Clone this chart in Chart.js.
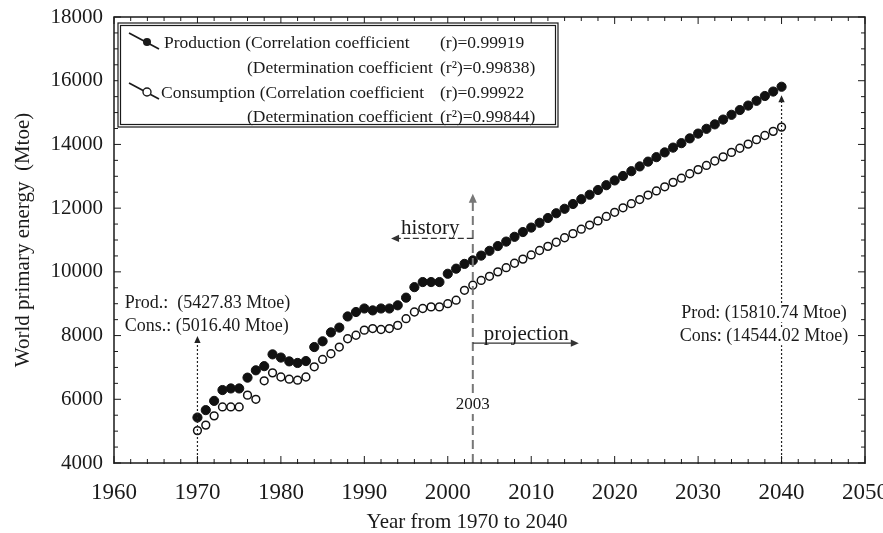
<!DOCTYPE html>
<html><head><meta charset="utf-8">
<script src="https://cdn.jsdelivr.net/npm/chart.js@4/dist/chart.umd.min.js"></script>
<style>html,body{margin:0;padding:0;background:#fff;}#wrap{width:883px;height:533px;}</style>
</head><body><div id="wrap"><canvas id="c" width="883" height="533"></canvas></div>
<script>
// ---- data ----
const years = [1970,1971,1972,1973,1974,1975,1976,1977,1978,1979,1980,1981,1982,1983,1984,1985,1986,1987,1988,1989,
  1990,1991,1992,1993,1994,1995,1996,1997,1998,1999,2000,2001,2002,2003,2004,2005,2006,2007,2008,2009,
  2010,2011,2012,2013,2014,2015,2016,2017,2018,2019,2020,2021,2022,2023,2024,2025,2026,2027,2028,2029,
  2030,2031,2032,2033,2034,2035,2036,2037,2038,2039,2040];
const production = [5427.83,5660,5950,6290,6340,6340,6680,6910,7040,7410,7310,7190,7140,7200,7640,7820,8100,8250,8600,8740,
  8850,8790,8850,8850,8950,9190,9520,9680,9680,9680,9940,10100,10250,10360,10510,10660,10810,10950,11100,11250,
  11390,11540,11690,11840,11980,12130,12280,12420,12570,12720,12870,13010,13160,13310,13460,13600,13750,13900,14040,14190,
  14340,14490,14630,14780,14930,15080,15220,15370,15520,15660,15810.74];
const consumption = [5016.40,5190,5480,5760,5760,5760,6130,6000,6580,6830,6700,6630,6600,6700,7020,7250,7430,7640,7900,8010,
  8170,8220,8190,8220,8320,8530,8740,8850,8900,8900,9000,9110,9420,9580,9730,9860,10000,10130,10270,10400,
  10530,10670,10800,10930,11070,11200,11340,11470,11600,11740,11870,12010,12140,12270,12410,12540,12670,12810,12940,13080,
  13210,13340,13480,13610,13750,13880,14010,14150,14280,14410,14544.02];
const xTickValues = [1960,1970,1980,1990,2000,2010,2020,2030,2040,2050];
const yTickValues = [4000,6000,8000,10000,12000,14000,16000,18000];
const seriesNames = ['Production','Consumption'];
const legendLines = [
  ['Production (Correlation coefficient', '(r)=0.99919'],
  ['(Determination coefficient', '(r\u00B2)=0.99838)'],
  ['Consumption (Correlation coefficient', '(r)=0.99922'],
  ['(Determination coefficient', '(r\u00B2)=0.99844)']
];
const startLabels = ['Prod.:  (5427.83 Mtoe)', 'Cons.: (5016.40 Mtoe)'];
const endLabels = ['Prod: (15810.74 Mtoe)', 'Cons: (14544.02 Mtoe)'];
const xTitle = 'Year from 1970 to 2040';
const yTitle = 'World primary energy  (Mtoe)';

const SERIF = '"Liberation Serif", "Times New Roman", serif';
const INK = '#1a1a1a';

function arrowHead(ctx, x, y, dir, size) {
  ctx.save();
  ctx.translate(x, y);
  const ang = {up: -Math.PI/2, down: Math.PI/2, left: Math.PI, right: 0}[dir];
  ctx.rotate(ang);
  ctx.beginPath();
  ctx.moveTo(0, 0);
  ctx.lineTo(-size, -size*0.45);
  ctx.lineTo(-size, size*0.45);
  ctx.closePath();
  ctx.fill();
  ctx.restore();
}
function line(ctx, x1, y1, x2, y2) { ctx.beginPath(); ctx.moveTo(x1, y1); ctx.lineTo(x2, y2); ctx.stroke(); }
function boxedText(ctx, text, x, y, align) {
  const w = ctx.measureText(text).width;
  const lx = align === 'center' ? x - w/2 : x;
  ctx.fillStyle = '#fff';
  ctx.fillRect(lx - 2, y - 9, w + 4, 18);
  ctx.fillStyle = INK;
  ctx.textAlign = align; ctx.textBaseline = 'middle';
  ctx.fillText(text, x, y);
}

const decor = {
  id: 'decor',
  afterDatasetsDraw(chart) {
    const {ctx, chartArea: a, scales: {x, y}} = chart;
    ctx.save();
    ctx.strokeStyle = INK; ctx.fillStyle = INK;

    // 2003 dashed divider
    const x03 = x.getPixelForValue(2003);
    ctx.strokeStyle = '#777'; ctx.fillStyle = '#777'; ctx.lineWidth = 2; ctx.setLineDash([9, 5]);
    line(ctx, x03, y.getPixelForValue(4000), x03, y.getPixelForValue(12350));
    ctx.setLineDash([]);
    arrowHead(ctx, x03, y.getPixelForValue(12450), 'up', 9);
    ctx.font = '17px ' + SERIF;
    boxedText(ctx, '2003', x03, y.getPixelForValue(5820), 'center');

    // history arrow
    ctx.strokeStyle = '#333'; ctx.fillStyle = '#333'; ctx.lineWidth = 1.3; ctx.setLineDash([6, 3]);
    const yh = y.getPixelForValue(11050);
    line(ctx, x03, yh, x.getPixelForValue(1994), yh);
    ctx.setLineDash([]);
    arrowHead(ctx, x.getPixelForValue(1993.2), yh, 'left', 8);
    ctx.fillStyle = INK; ctx.font = '21px ' + SERIF; ctx.textAlign = 'center'; ctx.textBaseline = 'alphabetic';
    ctx.fillText('history', x.getPixelForValue(1997.9), y.getPixelForValue(11200));

    // projection arrow
    ctx.strokeStyle = '#333'; ctx.fillStyle = '#333'; ctx.lineWidth = 1.3;
    const yp = y.getPixelForValue(7760);
    line(ctx, x03, yp, x.getPixelForValue(2015), yp);
    arrowHead(ctx, x.getPixelForValue(2015.7), yp, 'right', 8);
    ctx.fillStyle = INK; ctx.font = '21px ' + SERIF;
    ctx.fillText('projection', x.getPixelForValue(2009.4), y.getPixelForValue(7850));

    // 1970 dotted marker
    const x70 = x.getPixelForValue(1970);
    ctx.strokeStyle = '#222'; ctx.fillStyle = '#222'; ctx.lineWidth = 1.2; ctx.setLineDash([2, 2]);
    line(ctx, x70, y.getPixelForValue(4000), x70, y.getPixelForValue(7850));
    ctx.setLineDash([]);
    arrowHead(ctx, x70, y.getPixelForValue(7990), 'up', 7);
    ctx.font = '18px ' + SERIF; ctx.textBaseline = 'middle'; ctx.textAlign = 'left'; ctx.fillStyle = INK;
    ctx.fillText(startLabels[0], x.getPixelForValue(1961.3), y.getPixelForValue(9010));
    ctx.fillText(startLabels[1], x.getPixelForValue(1961.3), y.getPixelForValue(8290));

    // 2040 dotted marker
    const x40 = x.getPixelForValue(2040);
    ctx.strokeStyle = '#222'; ctx.fillStyle = '#222'; ctx.setLineDash([2, 2]);
    line(ctx, x40, y.getPixelForValue(4000), x40, y.getPixelForValue(15400));
    ctx.setLineDash([]);
    arrowHead(ctx, x40, y.getPixelForValue(15540), 'up', 7);
    ctx.font = '18px ' + SERIF;
    boxedText(ctx, endLabels[0], x.getPixelForValue(2037.9), y.getPixelForValue(8700), 'center');
    boxedText(ctx, endLabels[1], x.getPixelForValue(2037.9), y.getPixelForValue(7980), 'center');

    ctx.restore();
  },
  afterDraw(chart) {
    const {ctx, chartArea: a, scales: {x, y}} = chart;
    ctx.save();
    // frame
    ctx.strokeStyle = INK; ctx.lineWidth = 1.5;
    ctx.strokeRect(a.left, a.top, a.right - a.left, a.bottom - a.top);
    // inward ticks
    ctx.lineWidth = 1;
    for (let v = x.min; v <= x.max; v += 2) {
      const px = x.getPixelForValue(v), len = (v % 10 === 0) ? 7 : 4;
      line(ctx, px, a.bottom + 1, px, a.bottom - len);
      line(ctx, px, a.top, px, a.top + len);
    }
    for (let v = y.min; v <= y.max; v += 500) {
      const py = y.getPixelForValue(v), len = (v % 2000 === 0) ? 7 : 4;
      line(ctx, a.left, py, a.left + len, py);
      line(ctx, a.right, py, a.right - len, py);
    }
    // x title
    ctx.fillStyle = INK; ctx.font = '21px ' + SERIF; ctx.textAlign = 'center'; ctx.textBaseline = 'middle';
    ctx.fillText(xTitle, 467, 522);

    // legend box
    const bx = a.left + 4, by = a.top + 6, bw = 440, bh = 104;
    ctx.fillStyle = '#fff'; ctx.fillRect(bx, by, bw, bh);
    ctx.strokeStyle = INK; ctx.lineWidth = 1.2;
    ctx.strokeRect(bx, by, bw, bh);
    ctx.strokeRect(bx + 2.5, by + 2.5, bw - 5, bh - 5);
    const rowY = [by + 20, by + 45, by + 70, by + 94];
    ctx.font = '17.5px ' + SERIF; ctx.textBaseline = 'middle'; ctx.fillStyle = INK; ctx.textAlign = 'left';
    const col1 = [bx + 46, bx + 129, bx + 43, bx + 129];
    legendLines.forEach((pair, i) => {
      ctx.fillText(pair[0], col1[i], rowY[i]);
      ctx.fillText(pair[1], bx + 322, rowY[i]);
    });
    // legend symbols
    [0, 2].forEach((r, k) => {
      const cy = rowY[r] - 1, cx = bx + 29;
      ctx.strokeStyle = INK; ctx.lineWidth = 1.6;
      line(ctx, cx - 18, cy - 9, cx + 12, cy + 7);
      ctx.beginPath(); ctx.arc(cx, cy, 4, 0, Math.PI * 2);
      if (k === 0) { ctx.fillStyle = INK; ctx.fill(); }
      else { ctx.fillStyle = '#fff'; ctx.fill(); ctx.lineWidth = 1.4; ctx.stroke(); }
    });
    ctx.restore();
  }
};

const ctx = document.getElementById('c').getContext('2d');
new Chart(ctx, {
  type: 'scatter',
  data: {
    datasets: [
      { label: seriesNames[0], data: years.map((yr, i) => ({x: yr, y: production[i]})),
        pointRadius: 4.6, pointBackgroundColor: '#111', pointBorderColor: '#111', pointBorderWidth: 1, showLine: false },
      { label: seriesNames[1], data: years.map((yr, i) => ({x: yr, y: consumption[i]})),
        pointRadius: 3.9, pointBackgroundColor: '#fff', pointBorderColor: '#111', pointBorderWidth: 1.5, showLine: false }
    ]
  },
  options: {
    responsive: false, animation: false, devicePixelRatio: 1,
    layout: { autoPadding: false, padding: { left: 0, right: 18, top: 17, bottom: 0 } },
    plugins: { legend: { display: false }, tooltip: { enabled: false } },
    scales: {
      x: {
        type: 'linear', min: 1960, max: 2050, position: 'bottom',
        afterBuildTicks: s => { s.ticks = xTickValues.map(v => ({value: v})); },
        afterFit: s => { s.height = 70; s.paddingLeft = 0; s.paddingRight = 0; },
        ticks: { font: { family: SERIF, size: 23 }, color: INK, padding: 16, maxRotation: 0, autoSkip: false,
                 callback: v => String(v) },
        grid: { display: false, drawTicks: false },
        border: { display: false }
      },
      y: {
        min: 4000, max: 18000,
        afterBuildTicks: s => { s.ticks = yTickValues.map(v => ({value: v})); },
        afterFit: s => { s.width = 114; s.paddingTop = 0; s.paddingBottom = 0; },
        ticks: { font: { family: SERIF, size: 21 }, color: INK, padding: 11, autoSkip: false, callback: v => String(v) },
        grid: { display: false, drawTicks: false },
        border: { display: false },
        title: { display: true, text: yTitle, font: { family: SERIF, size: 21 }, color: INK, padding: { top: 11, bottom: 0 } }
      }
    }
  },
  plugins: [decor]
});
</script></body></html>
